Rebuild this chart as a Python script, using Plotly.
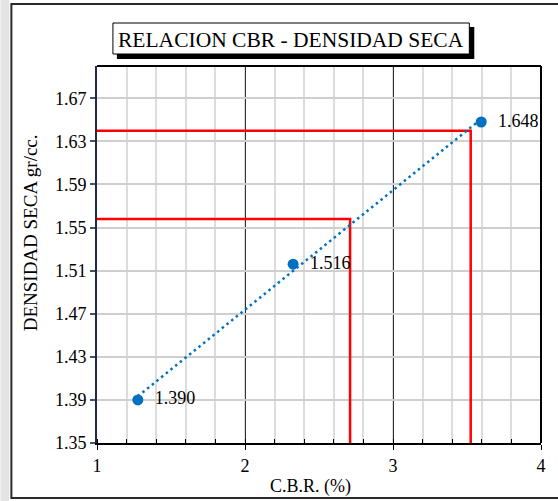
import numpy as np
import plotly.graph_objects as go

# ---- data ----
cbr = [1.276, 2.325, 3.596]
densidad = [1.390, 1.516, 1.648]
labels = ["1.390", "1.516", "1.648"]
ref_cbr = [2.71, 3.525]         # CBR at 95% and 100% MDD
ref_dens = [1.558, 1.640]       # 95% and 100% MDD
x_range = [1, 4]
y_range = [1.35, 1.70]

title = "RELACION CBR - DENSIDAD SECA"
xlabel = "C.B.R. (%)"
ylabel = "DENSIDAD SECA gr/cc."

FONT = "Liberation Serif"

# plot area geometry (pixels)
Wd, Ht = 558, 501
L, R, T, B = 97, 543, 66, 443
PW, PH = R - L, B - T


def px(xp):
    return (xp - L) / PW


def py(yp):
    return (B - yp) / PH


fig = go.Figure()

# red reference lines
for c, d in zip(ref_cbr, ref_dens):
    fig.add_trace(go.Scatter(
        x=[x_range[0], c, c], y=[d, d, y_range[0]], mode="lines",
        line=dict(color="#FF0000", width=2.5), hoverinfo="skip", showlegend=False))

# linear trendline (dotted)
coef = np.polyfit(cbr, densidad, 1)
tx = np.array([min(cbr), max(cbr)])
fig.add_trace(go.Scatter(
    x=tx, y=np.polyval(coef, tx), mode="lines",
    line=dict(color="#0070C0", width=2.5, dash="2.5px,3.5px"),
    hoverinfo="skip", showlegend=False))

# data points
fig.add_trace(go.Scatter(
    x=cbr, y=densidad, mode="markers+text", text=labels,
    texttemplate="\u00a0\u00a0%{text}",
    textposition="middle right",
    textfont=dict(family=FONT, size=18, color="black"),
    marker=dict(color="#0070C0", size=11),
    hoverinfo="skip", showlegend=False))

shapes = [
    # outer frame
    dict(type="rect", xref="paper", yref="paper", x0=px(11), x1=px(575), y0=py(498), y1=py(4),
         line=dict(color="#2a2a2a", width=2), fillcolor="rgba(0,0,0,0)", layer="below"),
    # left shadow strip
    dict(type="rect", xref="paper", yref="paper", x0=px(0), x1=px(9), y0=py(501), y1=py(0),
         line=dict(width=0), fillcolor="#e4e4e4", layer="below"),
    # title shadow
    dict(type="rect", xref="paper", yref="paper", x0=px(117), x1=px(476), y0=py(59), y1=py(27),
         line=dict(width=0), fillcolor="black", layer="above"),
    # title box
    dict(type="rect", xref="paper", yref="paper", x0=px(113), x1=px(471), y0=py(54), y1=py(23),
         line=dict(color="black", width=1), fillcolor="white", layer="above"),
    # plot top / right border
    dict(type="line", xref="paper", yref="paper", x0=0, x1=1, y0=1, y1=1,
         line=dict(color="black", width=2), layer="above"),
    dict(type="line", xref="paper", yref="paper", x0=1, x1=1, y0=0, y1=1,
         line=dict(color="black", width=2), layer="above"),
]

annotations = [
    dict(text=title, xref="paper", yref="paper", x=px(292), y=py(39.5), xanchor="center",
         yanchor="middle", showarrow=False, font=dict(family=FONT, size=21.5, color="black")),
    dict(text=xlabel, xref="paper", yref="paper", x=px(311), y=py(487), xanchor="center",
         yanchor="middle", showarrow=False, font=dict(family=FONT, size=18, color="black")),
    dict(text=ylabel, xref="paper", yref="paper", x=px(30), y=py(233), xanchor="center",
         yanchor="middle", textangle=-90, showarrow=False,
         font=dict(family=FONT, size=19, color="black")),
]

fig.update_layout(
    width=Wd, height=Ht,
    margin=dict(l=L, r=Wd - R, t=T, b=Ht - B),
    paper_bgcolor="white", plot_bgcolor="white",
    shapes=shapes, annotations=annotations,
    font=dict(family=FONT, color="black"),
    xaxis=dict(
        range=x_range, dtick=1, tick0=1,
        showgrid=True, gridcolor="#303030", gridwidth=1,
        ticks="outside", ticklen=5, tickcolor="black", tickwidth=1,
        showline=True, linecolor="black", linewidth=2,
        tickfont=dict(family=FONT, size=18, color="black"),
        zeroline=False,
        minor=dict(dtick=0.2, showgrid=True, gridcolor="#dcdcdc", gridwidth=1.5,
                   ticks="inside", ticklen=4, tickcolor="black"),
    ),
    yaxis=dict(
        range=y_range, dtick=0.04, tick0=1.35, tickformat=".2f",
        showgrid=True, gridcolor="#cfcfcf", gridwidth=2,
        ticks="outside", ticklen=5, tickcolor="#44546A", tickwidth=1.5,
        showline=True, linecolor="#1F2A44", linewidth=2,
        tickfont=dict(family=FONT, size=18, color="black"),
        zeroline=False,
    ),
)

fig.write_html("out.html", config={"displayModeBar": False},
               post_script="document.body.style.margin='0';document.body.style.overflow='hidden';")
